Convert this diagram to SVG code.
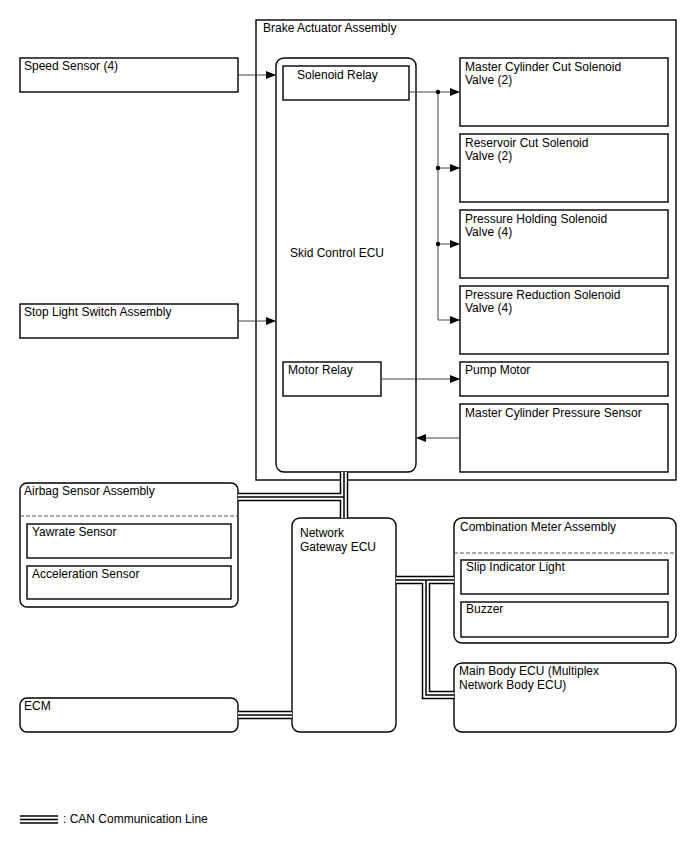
<svg xmlns="http://www.w3.org/2000/svg" width="688" height="852" viewBox="0 0 688 852">
<defs>
<style>
text{font-family:"Liberation Sans",Arial,sans-serif;font-size:12px;fill:#000}
.box{fill:#fff;stroke:#000;stroke-width:1.4}
.rbox{fill:#fff;stroke:#000;stroke-width:1.4}
.in{fill:#fff;stroke:#000;stroke-width:1.4}
.dash{stroke:#555;stroke-width:1;stroke-dasharray:4,2;fill:none}
.wire{stroke:#444;stroke-width:1;fill:none}
.c1{stroke:#000;stroke-width:8.5;fill:none}
.c2{stroke:#fff;stroke-width:5.5;fill:none}
.c3{stroke:#000;stroke-width:1.5;fill:none}
</style>
<marker id="ah" markerWidth="10" markerHeight="8" refX="10" refY="4" orient="auto" markerUnits="userSpaceOnUse">
<path d="M0,0 L10,4 L0,8 Z" fill="#000"/>
</marker>
</defs>
<rect width="688" height="852" fill="#fff"/>

<g id="brake-actuator">
<rect class="box" x="256" y="20" width="420" height="460"/>
<text x="263" y="32">Brake Actuator Assembly</text>
</g>

<g id="speed-sensor">
<rect class="box" x="20" y="58" width="218" height="34"/>
<text x="24" y="70">Speed Sensor (4)</text>
</g>
<g id="stop-light">
<rect class="box" x="20" y="304" width="218" height="34"/>
<text x="24" y="316">Stop Light Switch Assembly</text>
</g>

<g id="skid-control-ecu">
<rect class="rbox" x="276" y="58" width="140" height="414" rx="8"/>
<text x="290" y="257">Skid Control ECU</text>
</g>
<g id="solenoid-relay">
<rect class="in" x="283" y="66" width="126" height="34"/>
<text x="297" y="79">Solenoid Relay</text>
</g>
<g id="motor-relay">
<rect class="in" x="283" y="362" width="98" height="34"/>
<text x="288" y="374">Motor Relay</text>
</g>

<g id="mc-cut">
<rect class="box" x="460" y="58" width="208" height="68"/>
<text x="465" y="71">Master Cylinder Cut Solenoid</text>
<text x="465" y="84">Valve (2)</text>
</g>
<g id="res-cut">
<rect class="box" x="460" y="134" width="208" height="68"/>
<text x="465" y="147">Reservoir Cut Solenoid</text>
<text x="465" y="160">Valve (2)</text>
</g>
<g id="press-hold">
<rect class="box" x="460" y="210" width="208" height="68"/>
<text x="465" y="223">Pressure Holding Solenoid</text>
<text x="465" y="236">Valve (4)</text>
</g>
<g id="press-red">
<rect class="box" x="460" y="286" width="208" height="68"/>
<text x="465" y="299">Pressure Reduction Solenoid</text>
<text x="465" y="312">Valve (4)</text>
</g>
<g id="pump-motor">
<rect class="box" x="460" y="362" width="208" height="34"/>
<text x="465" y="374">Pump Motor</text>
</g>
<g id="mc-press-sensor">
<rect class="box" x="460" y="404" width="208" height="68"/>
<text x="465" y="417">Master Cylinder Pressure Sensor</text>
</g>

<g id="airbag">
<rect class="rbox" x="20" y="483" width="218" height="124" rx="7"/>
<text x="24" y="495">Airbag Sensor Assembly</text>
<line class="dash" x1="20" y1="516" x2="238" y2="516"/>
<rect class="in" x="27" y="524" width="204" height="34"/>
<text x="32" y="536">Yawrate Sensor</text>
<rect class="in" x="27" y="566" width="204" height="33"/>
<text x="32" y="578">Acceleration Sensor</text>
</g>

<g id="network-gateway">
<rect class="rbox" x="292" y="518" width="104" height="214" rx="8"/>
<text x="300" y="537">Network</text>
<text x="300" y="551">Gateway ECU</text>
</g>

<g id="combination-meter">
<rect class="rbox" x="454" y="518" width="222" height="125" rx="8"/>
<text x="460" y="531">Combination Meter Assembly</text>
<line class="dash" x1="454" y1="553" x2="676" y2="553"/>
<rect class="in" x="461" y="560" width="207" height="34"/>
<text x="466" y="571">Slip Indicator Light</text>
<rect class="in" x="461" y="602" width="207" height="35"/>
<text x="466" y="613">Buzzer</text>
</g>

<g id="main-body-ecu">
<rect class="rbox" x="454" y="663" width="222" height="69" rx="8"/>
<text x="459" y="675">Main Body ECU (Multiplex</text>
<text x="459" y="689">Network Body ECU)</text>
</g>

<g id="ecm">
<rect class="rbox" x="20" y="698" width="218" height="34" rx="7"/>
<text x="24" y="710">ECM</text>
</g>

<g id="connectors">
<line class="wire" x1="238" y1="75" x2="276" y2="75" marker-end="url(#ah)"/>
<line class="wire" x1="238" y1="321" x2="276" y2="321" marker-end="url(#ah)"/>
<line class="wire" x1="409" y1="92" x2="460" y2="92" marker-end="url(#ah)"/>
<polyline class="wire" points="438,92 438,320 460,320" marker-end="url(#ah)"/>
<line class="wire" x1="438" y1="168" x2="460" y2="168" marker-end="url(#ah)"/>
<line class="wire" x1="438" y1="244" x2="460" y2="244" marker-end="url(#ah)"/>
<circle cx="438" cy="92" r="2.2" fill="#000"/>
<circle cx="438" cy="168" r="2.2" fill="#000"/>
<circle cx="438" cy="244" r="2.2" fill="#000"/>
<line class="wire" x1="381" y1="379" x2="460" y2="379" marker-end="url(#ah)"/>
<line class="wire" x1="460" y1="438" x2="416" y2="438" marker-end="url(#ah)"/>

<g id="can">
<path class="c1" d="M344,472 V518 M238,497 H344 M238,715 H292 M396,580 H454 M426,580 V695 H454"/>
<path class="c2" d="M344,472 V518 M238,497 H344 M238,715 H292 M396,580 H454 M426,580 V695 H454"/>
<path class="c3" d="M344,472 V518 M238,497 H344 M238,715 H292 M396,580 H454 M426,580 V695 H454"/>
</g>
</g>

<g id="legend">
<path class="c1" d="M20,819.5 H58"/>
<path class="c2" d="M20,819.5 H58"/>
<path class="c3" d="M20,819.5 H58"/>
<text x="63" y="823">: CAN Communication Line</text>
</g>
</svg>
